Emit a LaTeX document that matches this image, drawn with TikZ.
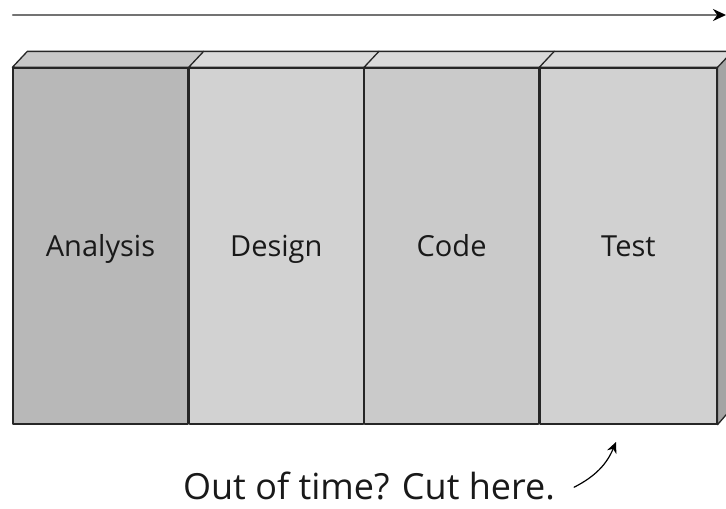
\documentclass[tikz,border=0pt]{standalone}
\usepackage{fontspec}
\setmainfont{Open Sans}
\usetikzlibrary{positioning,arrows.meta}
\definecolor{anafill}{HTML}{B8B8B8}
\definecolor{anatop}{HTML}{C8C8C8}
\definecolor{phasefill}{HTML}{D2D2D2}
\definecolor{phasetop}{HTML}{DADADA}
\definecolor{sidefill}{HTML}{A4A4A4}
\begin{document}
\begin{tikzpicture}[x=1pt,y=-1pt,line join=round,line cap=round,
  phase/.style={draw=black!85,line width=1.3pt,minimum width=174pt,minimum height=356pt,inner sep=0pt,text height=22pt,text depth=2pt,font=\fontsize{29}{32}\selectfont,text=black!90},
  topface/.style={draw=black!85,line width=1.3pt}]
\useasboundingbox (0,0) rectangle (726,509);
% time line
\coordinate (t0) at (13,15);
\coordinate (t1) at (726,15);
\draw[black!55,line width=2.4pt,-{Stealth[length=13pt,width=12pt,color=black]}] (t0) -- (t1);
% the four phases
\node[phase,fill=anafill,minimum width=175pt] (ana) at (100.5,246) {Analysis};
\node[phase,fill=phasefill,right=0pt of ana] (des) {Design};
\node[phase,fill=phasefill!96!black,right=0pt of des] (cod) {Code};
\node[phase,fill=phasefill!102,minimum width=177pt,right=0pt of cod] (tst) {Test};
% top and side faces
\draw[topface,fill=anatop] (ana.north west) -- ++(15,-16) -| ([xshift=15pt]ana.north east) -- (ana.north east) -- cycle;
\foreach \p in {des,cod,tst}
  \draw[topface,fill=phasetop] (\p.north west) -- ++(15,-16) -| ([xshift=15pt]\p.north east) -- (\p.north east) -- cycle;
\draw[topface,fill=sidefill] (tst.north east) -- ++(15,-16) -- ++(0,356) -- (tst.south east) -- cycle;
% note
\node[anchor=base,inner sep=1pt,text depth=0pt,font=\fontsize{36}{40}\selectfont,text=black!90] (cut) at (369,499) {Out of time? Cut here.};
\coordinate (mark) at (616,442);
\draw[line width=1.2pt,-{Stealth[length=11pt,width=10pt]}] ([xshift=18pt,yshift=-2pt]cut.east) to[bend right=20] (mark);
\end{tikzpicture}
\end{document}
